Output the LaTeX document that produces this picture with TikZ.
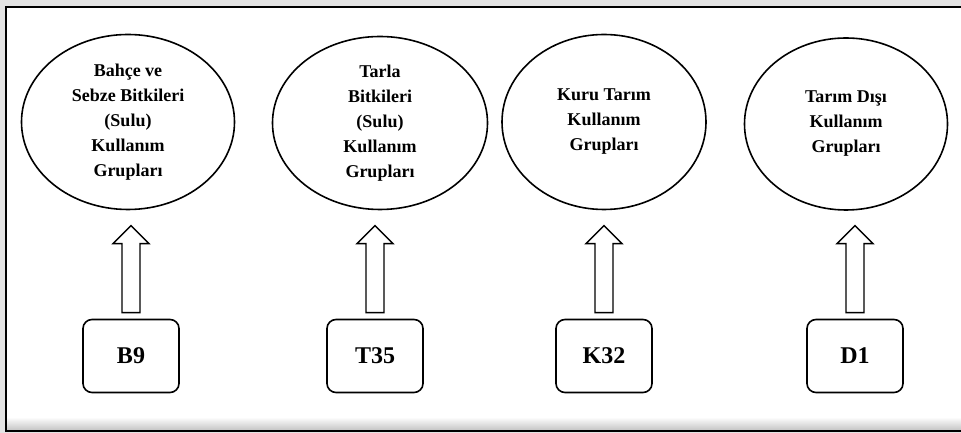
\documentclass[tikz,border=0pt]{standalone}
\usepackage{fontspec}
\setmainfont{Liberation Serif}
\usepackage{tikz}
\usetikzlibrary{shapes.geometric, positioning, calc}
\tikzstyle{group} = [ellipse, draw=black, line width=1.6pt, align=center, inner sep=0pt, font=\bfseries\fontsize{18}{25}\selectfont]
\tikzstyle{code} = [rectangle, rounded corners=9pt, draw=black, line width=1.6pt, minimum width=96pt, minimum height=73pt, font=\bfseries\fontsize{24}{28}\selectfont]
\tikzstyle{hollow} = [draw=black, line width=1.4pt, fill=white, line join=miter]

\begin{document}
\begin{tikzpicture}[x=1pt, y=1pt]
                \useasboundingbox (0,0) rectangle (961,433);
                % page background and frame
                \fill [gray!22] (0,0) rectangle (961,433);
                \fill [white] (6,2) rectangle (968,426);
                \shade [top color=white, bottom color=gray!45] (6,3) rectangle (968,16);
                \draw [line width=2pt] (968,2) -- (6,2) -- (6,426) -- (968,426);

                \node (bahce) [group, minimum width=213pt, minimum height=175pt] at (128,311) {Bahçe ve\\Sebze Bitkileri\\(Sulu)\\Kullanım\\Grupları};
                \node (tarla) [group, minimum width=215pt, minimum height=173pt] at (380,310) {Tarla\\Bitkileri\\(Sulu)\\Kullanım\\Grupları};
                \node (kuru) [group, minimum width=204pt, minimum height=175pt] at (604,311) {Kuru Tarım\\Kullanım\\Grupları};
                \node (disi) [group, minimum width=203pt, minimum height=172pt] at (846,309) {Tarım Dışı\\Kullanım\\Grupları};

                \node (b9) [code] at (131,77) {B9};
                \node (t35) [code] at (375,77) {T35};
                \node (k32) [code] at (604,77) {K32};
                \node (d1) [code] at (855,77) {D1};

                % block arrows from each code up to its group
                \draw [hollow] ($(b9.north)+(-9,6)$) -- ++(0,69) -- ++(-9,0) -- ++(18,18) -- ++(18,-18) -- ++(-9,0) -- ++(0,-69) -- cycle;
                \draw [hollow] ($(t35.north)+(-9,6)$) -- ++(0,69) -- ++(-9,0) -- ++(18,18) -- ++(18,-18) -- ++(-9,0) -- ++(0,-69) -- cycle;
                \draw [hollow] ($(k32.north)+(-9,6)$) -- ++(0,69) -- ++(-9,0) -- ++(18,18) -- ++(18,-18) -- ++(-9,0) -- ++(0,-69) -- cycle;
                \draw [hollow] ($(d1.north)+(-9,6)$) -- ++(0,69) -- ++(-9,0) -- ++(18,18) -- ++(18,-18) -- ++(-9,0) -- ++(0,-69) -- cycle;

            \end{tikzpicture}
\end{document}
